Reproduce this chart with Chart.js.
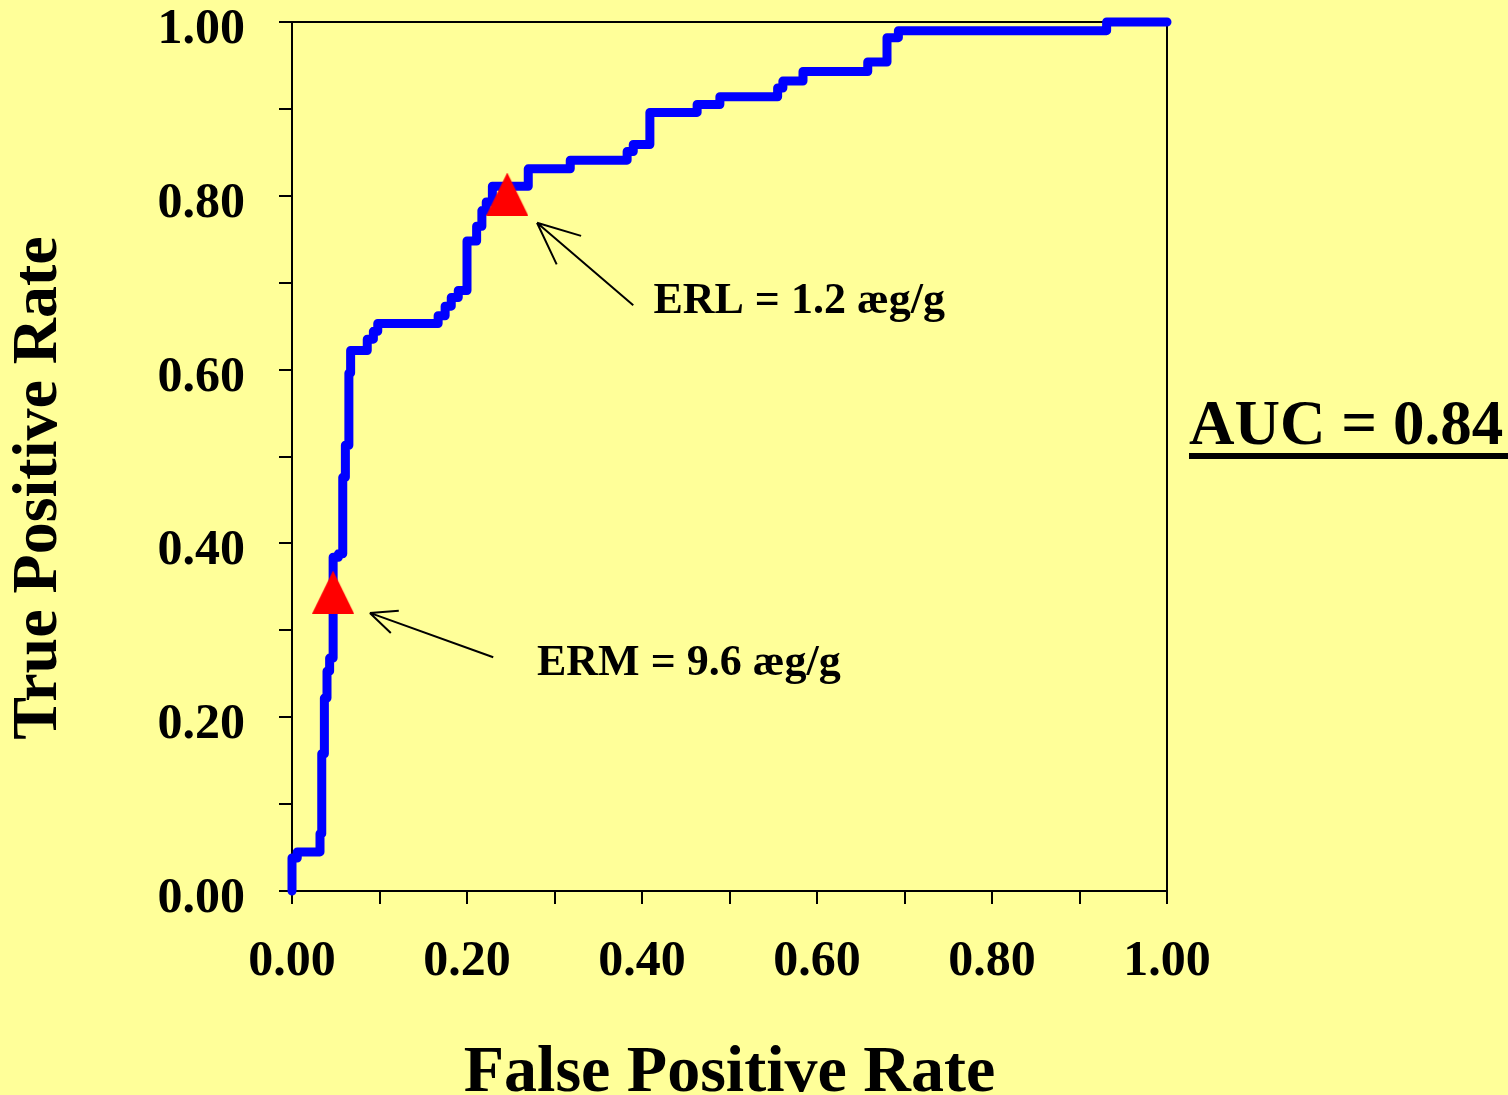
<!DOCTYPE html>
<html>
<head>
<meta charset="utf-8">
<script src="https://cdn.jsdelivr.net/npm/chart.js@4/dist/chart.umd.min.js"></script>
<style>
  html, body { margin: 0; padding: 0; background: #FFFF99; overflow: hidden; }
  #wrap { width: 1508px; height: 1095px; position: relative; }
</style>
</head>
<body>
<div id="wrap"><canvas id="roc"></canvas></div>
<script>
// ROC curve steps (top of each vertical step)
const rocFpr = [0.000, 0.000, 0.006, 0.032, 0.034, 0.037, 0.040, 0.043, 0.047, 0.053, 0.058, 0.061,
                0.065, 0.067, 0.086, 0.093, 0.098, 0.167, 0.175, 0.182, 0.190, 0.200, 0.211, 0.217,
                0.222, 0.229, 0.270, 0.318, 0.383, 0.390, 0.409, 0.463, 0.489, 0.555, 0.561, 0.584,
                0.658, 0.680, 0.693, 0.931, 1.000];
const rocTpr = [0.000, 0.038, 0.045, 0.066, 0.158, 0.222, 0.253, 0.268, 0.384, 0.388, 0.476, 0.513,
                0.596, 0.622, 0.635, 0.644, 0.653, 0.662, 0.673, 0.683, 0.691, 0.748, 0.765, 0.783,
                0.793, 0.811, 0.831, 0.841, 0.851, 0.859, 0.896, 0.905, 0.914, 0.924, 0.932, 0.943,
                0.954, 0.982, 0.990, 1.000, 1.000];

// the two marked cut-offs
const cutNames = ['ERL = 1.2 æg/g', 'ERM = 9.6 æg/g'];
const cutFpr = [0.246, 0.047];
const cutTpr = [0.802, 0.344];

const tickLabels = ['0.00', '0.20', '0.40', '0.60', '0.80', '1.00'];
const aucText = 'AUC = 0.84';

const FONT = "'Liberation Serif', 'Times New Roman', serif";

function makePoints(xs, ys) {
  let pts = [];
  for (let i = 0; i < xs.length; i++) pts.push({x: xs[i], y: ys[i]});
  return pts;
}

// red triangle marker
function triangleMarker() {
  let c = document.createElement('canvas');
  c.width = 42; c.height = 43;
  let g = c.getContext('2d');
  g.fillStyle = '#FF0000';
  g.beginPath();
  g.moveTo(21, 0);
  g.lineTo(42, 43);
  g.lineTo(0, 43);
  g.closePath();
  g.fill();
  return c;
}

function tickCallback(value, index) {
  return index % 2 === 0 ? tickLabels[index / 2] : '';
}

// arrows: tip and tail in data coordinates, head length in px
const arrows = [
  {tip: [0.280, 0.769], tail: [0.390, 0.674], head: 46, text: [0.413, 0.665]},
  {tip: [0.089, 0.320], tail: [0.230, 0.269], head: 29, text: [0.280, 0.249]}
];

const decorPlugin = {
  id: 'decor',
  beforeDraw(chart) {
    const ctx = chart.ctx;
    ctx.save();
    ctx.fillStyle = '#FFFF99';
    ctx.fillRect(0, 0, chart.width, chart.height);
    ctx.restore();
  },
  beforeDatasetsDraw(chart) {
    const ctx = chart.ctx, a = chart.chartArea;
    ctx.save();
    ctx.strokeStyle = '#000';
    ctx.lineWidth = 2;
    ctx.strokeRect(a.left, a.top, a.right - a.left, a.bottom - a.top);
    ctx.restore();
  },
  afterDraw(chart) {
    const ctx = chart.ctx;
    const xs = chart.scales.x, ys = chart.scales.y;
    ctx.save();
    // arrows + labels
    ctx.strokeStyle = '#000';
    ctx.lineWidth = 2;
    ctx.fillStyle = '#000';
    ctx.font = 'bold 44px ' + FONT;
    ctx.textBaseline = 'alphabetic';
    arrows.forEach((ar, i) => {
      let tx = xs.getPixelForValue(ar.tip[0]), ty = ys.getPixelForValue(ar.tip[1]);
      let bx = xs.getPixelForValue(ar.tail[0]), by = ys.getPixelForValue(ar.tail[1]);
      let ang = Math.atan2(by - ty, bx - tx);
      ctx.beginPath();
      ctx.moveTo(bx, by);
      ctx.lineTo(tx, ty);
      for (const d of [-0.42, 0.42]) {
        ctx.moveTo(tx, ty);
        ctx.lineTo(tx + Math.cos(ang + d) * ar.head, ty + Math.sin(ang + d) * ar.head);
      }
      ctx.stroke();
      ctx.fillText(cutNames[i], xs.getPixelForValue(ar.text[0]), ys.getPixelForValue(ar.text[1]));
    });
    // y title
    ctx.font = 'bold 64px ' + FONT;
    ctx.textAlign = 'center';
    ctx.translate(56, 488);
    ctx.rotate(-Math.PI / 2);
    ctx.fillText('True Positive Rate', 0, 0);
    ctx.setTransform(1, 0, 0, 1, 0, 0);
    // AUC
    ctx.textAlign = 'left';
    ctx.font = 'bold 63px ' + FONT;
    ctx.fillText(aucText, 1189, 444);
    ctx.fillRect(1189, 453, 330, 6);
    ctx.restore();
  }
};

new Chart(document.getElementById('roc'), {
  type: 'scatter',
  data: {
    datasets: [
      {
        label: 'Cut-offs',
        data: makePoints(cutFpr, cutTpr),
        pointStyle: triangleMarker(),
        pointRadius: 21,
        showLine: false,
        clip: false,
        order: 0
      },
      {
        label: 'ROC',
        data: makePoints(rocFpr, rocTpr),
        showLine: true,
        stepped: 'before',
        borderColor: '#0000FF',
        borderWidth: 9,
        borderCapStyle: 'round',
        borderJoinStyle: 'round',
        pointRadius: 0,
        clip: false,
        order: 1
      }
    ]
  },
  options: {
    responsive: true,
    maintainAspectRatio: false,
    animation: false,
    events: [],
    layout: { padding: { top: 17, right: 341, left: 0, bottom: 0 } },
    plugins: { legend: { display: false }, tooltip: { enabled: false } },
    scales: {
      x: {
        type: 'linear', min: 0, max: 1,
        afterFit(s) { s.height = 204; s.paddingLeft = 0; s.paddingRight = 0; },
        border: { display: false },
        grid: { drawOnChartArea: false, drawTicks: true, tickLength: 13, color: '#000', lineWidth: 2 },
        ticks: { stepSize: 0.1, autoSkip: false, maxRotation: 0, padding: 28, color: '#000',
                 font: { family: FONT, size: 50, weight: 'bold' }, callback: tickCallback },
        title: { display: true, text: 'False Positive Rate', color: '#000',
                 font: { family: FONT, size: 66, weight: 'bold', lineHeight: 1 },
                 padding: { top: 0, bottom: -12 } }
      },
      y: {
        type: 'linear', min: 0, max: 1,
        afterFit(s) { s.width = 292; s.paddingTop = 0; s.paddingBottom = 0; },
        border: { display: false },
        grid: { drawOnChartArea: false, drawTicks: true, tickLength: 13, color: '#000', lineWidth: 2 },
        ticks: { stepSize: 0.1, autoSkip: false, padding: 34, labelOffset: 8, color: '#000',
                 font: { family: FONT, size: 50, weight: 'bold' }, callback: tickCallback }
      }
    }
  },
  plugins: [decorPlugin]
});
</script>
</body>
</html>
